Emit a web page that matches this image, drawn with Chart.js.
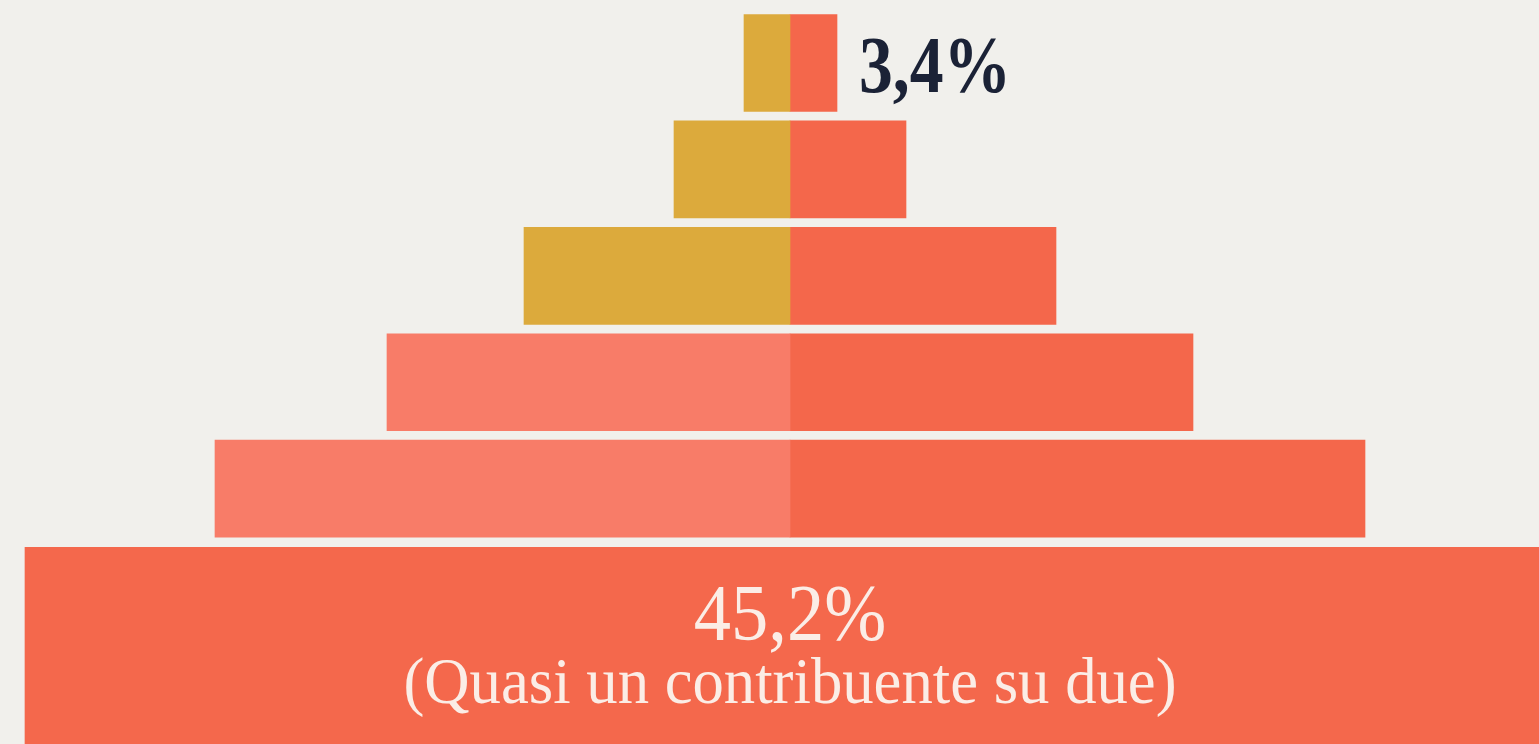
<!DOCTYPE html>
<html lang="it">
<head>
<meta charset="UTF-8">
<title>Piramide contribuenti</title>
<script src="https://cdn.jsdelivr.net/npm/chart.js"></script>
<style>
html, body {
    margin: 0;
    padding: 0;
    background: #f1f0ec;
    overflow: hidden;
}
.wrap {
    position: relative;
    width: 1539px;
    height: 744px;
}
</style>
</head>
<body>
<div class="wrap"><canvas id="pyramid"></canvas></div>

<script>
// pyramid rows, top to bottom (position on the vertical axis)
const rowPos = [1, 2, 3, 4, 5];
// half widths of each step, left and right of the centre line
const leftHalf = [46, 116, 266, 403, 575];
const rightHalf = [47, 116, 266, 403, 575];
// the wide base block
const basePos = 6.5;
const baseHalf = 765;

const leftColors = ['#dcaa3c', '#dcaa3c', '#dcaa3c', '#f87c68', '#f87c68'];
const rightColor = '#f4674b';
const baseColor = '#f4684c';

const topLabel = '3,4%';
const baseLabel = '45,2%';
const baseCaption = '(Quasi un contribuente su due)';

const labelPlugin = {
    id: 'pyramidLabels',
    afterDatasetsDraw(chart) {
        const ctx = chart.ctx;
        const x = chart.scales.x, y = chart.scales.y;
        ctx.save();
        // top value, right of the first step
        const tx = x.getPixelForValue(rightHalf[0]) + 22;
        const ty = y.getPixelForValue(rowPos[0]) + 29;
        ctx.fillStyle = '#1b2236';
        ctx.font = 'bold 81px "Liberation Serif", serif';
        ctx.textAlign = 'left';
        ctx.textBaseline = 'alphabetic';
        ctx.save();
        ctx.translate(tx, ty);
        ctx.scale(0.835, 1);
        ctx.fillText(topLabel, 0, 0);
        ctx.restore();

        // base value + caption
        const cx = x.getPixelForValue(0);
        const by = y.getPixelForValue(basePos);
        ctx.fillStyle = '#fbede6';
        ctx.textAlign = 'center';
        ctx.font = '81px "Liberation Serif", serif';
        ctx.save();
        ctx.translate(cx, by - 8);
        ctx.scale(0.92, 1);
        ctx.fillText(baseLabel, 0, 0);
        ctx.restore();

        ctx.font = '66px "Liberation Serif", serif';
        ctx.save();
        ctx.translate(cx, by + 55);
        ctx.scale(0.95, 1);
        ctx.fillText(baseCaption, 0, 0);
        ctx.restore();
        ctx.restore();
    }
};

new Chart(document.getElementById('pyramid'), {
    type: 'bar',
    data: {
        datasets: [
            {
                label: 'sinistra',
                data: rowPos.map((p, i) => ({ x: -leftHalf[i], y: p })),
                backgroundColor: leftColors,
                barThickness: 97,
                grouped: false
            },
            {
                label: 'destra',
                data: rowPos.map((p, i) => ({ x: rightHalf[i], y: p })),
                backgroundColor: rightColor,
                barThickness: 97,
                grouped: false
            },
            {
                label: 'base',
                data: [{ x: [-baseHalf, baseHalf], y: basePos }],
                backgroundColor: baseColor,
                barThickness: 202,
                grouped: false
            }
        ]
    },
    options: {
        indexAxis: 'y',
        responsive: true,
        maintainAspectRatio: false,
        animation: false,
        layout: { padding: 0 },
        plugins: {
            legend: { display: false },
            tooltip: { enabled: false }
        },
        scales: {
            x: { type: 'linear', min: -790, max: 749, display: false },
            y: {
                type: 'linear', reverse: true, min: 0.408, max: 7.4,
                offset: false, grid: { offset: false }, display: false
            }
        }
    },
    plugins: [labelPlugin]
});
</script>
</body>
</html>
